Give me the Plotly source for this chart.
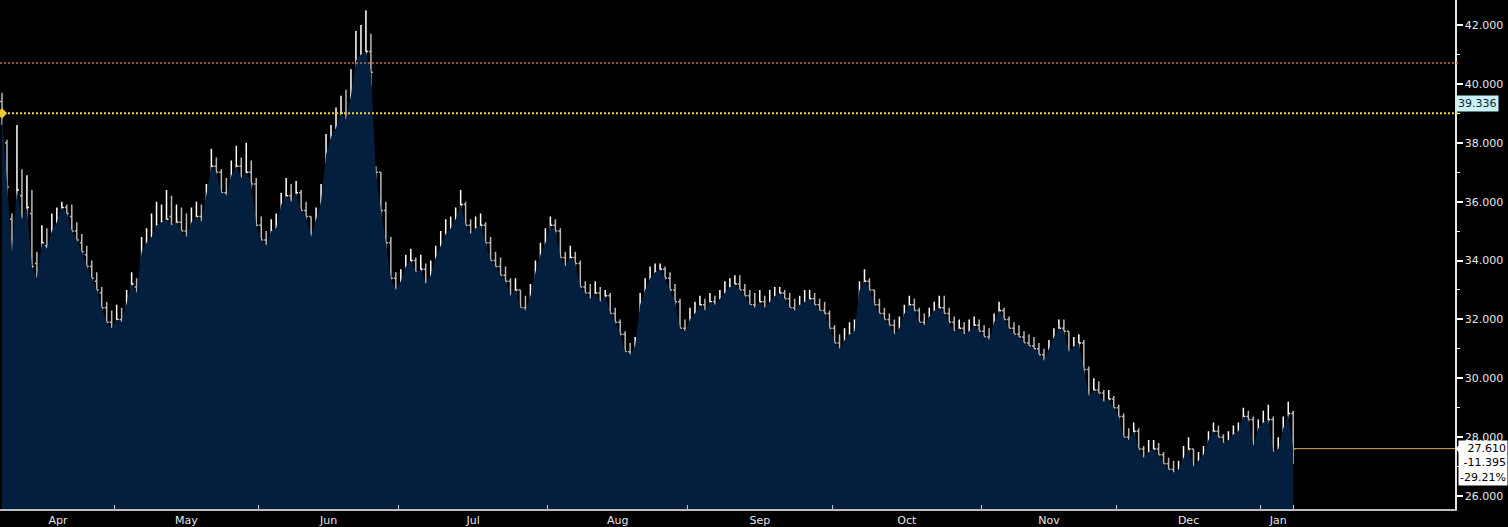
import plotly.graph_objects as go

# ---------------- data ----------------
opens = [
    39.4, 38.0, 35.4, 34.5, 36.2, 35.5, 35.6, 33.9, 33.5, 34.5,
    34.5, 35.0, 35.3, 35.8, 35.5, 35.0, 34.6, 34.2, 33.8, 33.3,
    32.9, 32.4, 31.9, 31.7, 32.0, 31.9, 32.6, 33.1, 32.9, 34.3,
    34.6, 34.8, 35.2, 35.3, 35.5, 35.2, 35.3, 35.0, 34.8, 35.3,
    35.5, 35.3, 36.3, 37.2, 37.0, 36.3, 36.2, 36.9, 37.2, 36.8,
    37.0, 36.6, 35.2, 34.7, 34.5, 35.0, 35.1, 35.9, 36.2, 36.0,
    36.3, 35.7, 35.5, 34.8, 35.4, 36.0, 37.6, 38.2, 38.5, 39.0,
    38.8, 39.6, 40.8, 41.0, 41.1, 37.1, 37.0, 35.7, 34.6, 33.4,
    33.0, 33.3, 33.8, 34.0, 33.6, 33.7, 33.2, 33.5, 34.1, 34.5,
    34.9, 35.1, 35.4, 35.9, 35.2, 34.9, 35.1, 35.2, 34.6, 34.0,
    33.8, 33.5, 33.3, 32.8, 33.0, 32.4, 32.3, 32.8, 33.6, 34.2,
    34.6, 35.2, 35.0, 34.1, 33.8, 34.1, 33.9, 33.1, 32.9, 32.7,
    32.9, 32.6, 32.8, 32.2, 31.9, 31.5, 30.9, 30.8, 31.1, 32.5,
    33.0, 33.4, 33.6, 33.7, 33.4, 33.0, 32.6, 31.7, 31.6, 32.0,
    32.2, 32.5, 32.3, 32.6, 32.5, 32.7, 32.9, 33.1, 33.2, 33.0,
    32.8, 32.5, 32.4, 32.6, 32.4, 32.6, 32.8, 32.9, 32.7, 32.4,
    32.3, 32.5, 32.6, 32.7, 32.5, 32.3, 32.2, 31.7, 31.2, 31.0,
    31.3, 31.5, 31.6, 33.0, 33.3, 33.0, 32.5, 32.2, 32.0, 31.8,
    31.5, 31.7, 32.2, 32.5, 32.3, 31.9, 31.8, 32.1, 32.3, 32.4,
    32.2, 31.9, 31.6, 31.7, 31.5, 31.6, 31.8, 31.6, 31.4, 31.3,
    31.9, 32.3, 32.0, 31.7, 31.5, 31.4, 31.2, 31.1, 31.0, 30.8,
    30.6, 31.0, 31.4, 31.7, 31.6, 30.9, 31.1, 31.2, 30.3, 29.4,
    29.6, 29.5, 29.2, 29.3, 29.0, 28.7, 28.0, 27.9, 28.2, 27.6,
    27.3, 27.5, 27.6, 27.4, 27.1, 26.9, 26.8, 26.9, 27.3, 27.6,
    27.0, 27.2, 27.4, 27.9, 28.2, 28.0, 27.8, 27.9, 28.1, 28.2,
    28.7, 28.6, 27.7, 28.3, 28.5, 28.6, 27.5, 27.6, 28.3, 28.8,
]
highs = [
    39.7, 38.1, 35.6, 38.6, 37.1, 36.9, 36.4, 34.3, 35.2, 35.1,
    35.6, 35.8, 36.0, 35.9, 35.9, 35.3, 34.9, 34.5, 34.0, 33.6,
    33.1, 32.6, 32.3, 32.5, 32.4, 33.0, 33.6, 33.4, 34.8, 35.1,
    35.6, 36.0, 35.9, 36.4, 36.2, 35.9, 35.8, 35.6, 35.8, 36.0,
    35.9, 36.6, 37.8, 37.5, 37.1, 36.8, 37.4, 37.9, 37.5, 38.0,
    37.4, 36.8, 35.5, 35.0, 35.4, 35.6, 36.3, 36.8, 36.6, 36.7,
    36.4, 36.0, 35.5, 35.8, 36.6, 38.3, 38.6, 39.2, 39.6, 39.8,
    40.5, 41.8, 42.0, 42.5, 41.7, 37.2, 37.0, 36.0, 34.8, 33.6,
    33.7, 34.2, 34.4, 34.1, 34.2, 33.9, 34.0, 34.5, 35.0, 35.4,
    35.5, 35.8, 36.4, 36.0, 35.4, 35.5, 35.6, 35.3, 34.8, 34.3,
    34.1, 33.8, 33.4, 33.4, 33.0, 32.8, 33.2, 34.0, 34.6, 35.1,
    35.5, 35.4, 35.1, 34.3, 34.5, 34.3, 34.0, 33.3, 33.2, 33.3,
    33.1, 33.0, 32.9, 32.4, 32.0, 31.6, 31.2, 31.4, 32.9, 33.4,
    33.8, 33.9, 33.9, 33.8, 33.6, 33.2, 32.7, 32.0, 32.4, 32.6,
    32.8, 32.7, 32.9, 32.8, 33.0, 33.3, 33.4, 33.5, 33.5, 33.2,
    33.0, 32.9, 33.0, 32.8, 33.0, 33.1, 33.1, 33.0, 32.9, 32.7,
    32.8, 33.0, 33.0, 32.9, 32.7, 32.6, 32.3, 31.8, 31.5, 31.7,
    31.9, 32.0, 33.3, 33.7, 33.4, 33.0, 32.7, 32.4, 32.2, 32.0,
    32.1, 32.5, 32.8, 32.7, 32.4, 32.2, 32.4, 32.6, 32.8, 32.8,
    32.4, 32.1, 32.0, 31.9, 32.0, 32.1, 32.0, 31.8, 31.7, 32.2,
    32.6, 32.4, 32.1, 31.9, 31.8, 31.6, 31.5, 31.4, 31.2, 31.0,
    31.3, 31.7, 32.0, 32.0, 31.6, 31.4, 31.5, 31.3, 30.4, 30.0,
    29.9, 29.6, 29.6, 29.4, 29.1, 28.8, 28.3, 28.5, 28.3, 27.7,
    27.9, 27.9, 27.8, 27.5, 27.3, 27.2, 27.2, 27.7, 28.0, 27.6,
    27.5, 27.7, 28.2, 28.5, 28.4, 28.1, 28.2, 28.4, 28.5, 29.0,
    28.9, 28.7, 28.6, 28.9, 29.1, 28.7, 28.0, 28.7, 29.2, 28.9,
]
lows = [
    38.6, 35.1, 33.6, 34.4, 34.9, 34.6, 33.2, 32.9, 32.6, 33.9,
    34.3, 34.6, 35.2, 35.0, 34.6, 34.2, 33.8, 33.4, 32.9, 32.5,
    31.9, 31.2, 31.2, 31.4, 31.5, 31.9, 32.5, 32.4, 32.8, 34.0,
    34.2, 34.6, 34.8, 34.9, 34.8, 34.7, 34.6, 34.5, 34.8, 35.0,
    34.9, 35.2, 36.2, 36.4, 35.8, 35.5, 36.0, 36.6, 36.3, 36.5,
    36.1, 34.9, 34.2, 33.8, 34.4, 34.7, 35.0, 35.6, 35.5, 35.8,
    35.3, 35.0, 34.5, 34.7, 35.2, 35.9, 37.4, 37.8, 38.2, 38.3,
    38.6, 39.5, 40.1, 40.5, 39.9, 35.8, 35.1, 34.0, 33.0, 32.7,
    32.8, 33.1, 33.5, 33.2, 33.3, 32.9, 33.0, 33.5, 34.0, 34.3,
    34.6, 34.9, 35.3, 34.8, 34.4, 34.6, 34.8, 34.2, 33.7, 33.4,
    33.1, 32.9, 32.4, 32.5, 32.0, 31.9, 32.2, 32.7, 33.5, 34.0,
    34.5, 34.4, 33.7, 33.4, 33.6, 33.5, 32.8, 32.5, 32.3, 32.4,
    32.2, 32.3, 31.9, 31.6, 31.0, 30.4, 30.3, 30.6, 31.0, 32.4,
    32.9, 33.1, 33.3, 32.9, 32.6, 32.1, 31.2, 31.2, 31.5, 31.7,
    31.9, 31.8, 32.0, 32.1, 32.2, 32.4, 32.6, 32.8, 32.6, 32.3,
    32.1, 32.0, 32.2, 32.0, 32.2, 32.4, 32.5, 32.3, 32.1, 32.0,
    32.1, 32.2, 32.3, 32.1, 31.9, 31.8, 31.3, 30.9, 30.7, 30.9,
    31.1, 31.2, 31.6, 32.8, 32.5, 32.1, 31.8, 31.6, 31.4, 31.2,
    31.3, 31.7, 32.0, 31.9, 31.5, 31.4, 31.6, 31.9, 32.0, 31.8,
    31.5, 31.2, 31.3, 31.1, 31.2, 31.4, 31.2, 31.0, 30.9, 31.3,
    31.8, 31.6, 31.3, 31.1, 31.0, 30.8, 30.7, 30.6, 30.4, 30.3,
    30.5, 30.9, 31.2, 31.2, 30.6, 30.7, 30.8, 30.0, 29.1, 29.2,
    29.1, 28.9, 28.9, 28.7, 28.3, 27.7, 27.6, 27.8, 27.3, 27.0,
    27.1, 27.2, 27.0, 26.8, 26.7, 26.6, 26.6, 26.8, 27.2, 26.8,
    26.8, 27.0, 27.4, 27.8, 27.7, 27.5, 27.6, 27.7, 27.8, 28.2,
    28.1, 27.4, 27.6, 28.1, 28.2, 27.2, 26.9, 27.4, 28.3, 27.1,
]
closes = [
    39.005, 36.5, 34.3, 36.4, 35.4, 35.8, 33.8, 33.4, 34.6, 34.4,
    35.0, 35.3, 35.8, 35.6, 35.0, 34.7, 34.3, 33.8, 33.4, 33.0,
    32.4, 31.9, 31.7, 32.0, 31.9, 32.6, 33.2, 32.9, 34.3, 34.6,
    34.8, 35.2, 35.3, 35.4, 35.2, 35.3, 35.0, 34.8, 35.3, 35.5,
    35.3, 36.3, 37.2, 37.0, 36.3, 36.2, 36.9, 37.2, 36.8, 37.0,
    36.6, 35.2, 34.7, 34.5, 35.0, 35.1, 35.9, 36.2, 36.0, 36.3,
    35.7, 35.5, 34.8, 35.4, 36.0, 37.6, 38.2, 38.5, 39.0, 38.8,
    39.6, 40.8, 41.0, 41.1, 40.4, 37.0, 35.7, 34.6, 33.4, 33.0,
    33.3, 33.8, 34.0, 33.6, 33.7, 33.2, 33.5, 34.1, 34.5, 34.9,
    35.1, 35.4, 35.9, 35.2, 34.9, 35.1, 35.2, 34.6, 34.0, 33.8,
    33.5, 33.3, 32.8, 33.0, 32.4, 32.3, 32.8, 33.6, 34.2, 34.6,
    35.2, 35.0, 34.1, 33.8, 34.1, 33.9, 33.1, 32.9, 32.7, 32.9,
    32.6, 32.8, 32.2, 31.9, 31.5, 30.9, 30.8, 31.1, 32.5, 33.0,
    33.4, 33.6, 33.7, 33.4, 33.0, 32.6, 31.7, 31.6, 32.0, 32.2,
    32.5, 32.3, 32.6, 32.5, 32.7, 32.9, 33.1, 33.2, 33.0, 32.8,
    32.5, 32.4, 32.6, 32.4, 32.6, 32.8, 32.9, 32.7, 32.4, 32.3,
    32.5, 32.6, 32.7, 32.5, 32.3, 32.2, 31.7, 31.2, 31.0, 31.3,
    31.5, 31.6, 33.0, 33.3, 33.0, 32.5, 32.2, 32.0, 31.8, 31.5,
    31.7, 32.2, 32.5, 32.3, 31.9, 31.8, 32.1, 32.3, 32.4, 32.2,
    31.9, 31.6, 31.7, 31.5, 31.6, 31.8, 31.6, 31.4, 31.3, 31.9,
    32.3, 32.0, 31.7, 31.5, 31.4, 31.2, 31.1, 31.0, 30.8, 30.6,
    31.0, 31.4, 31.7, 31.6, 30.9, 31.1, 31.2, 30.3, 29.4, 29.6,
    29.5, 29.2, 29.3, 29.0, 28.7, 28.0, 27.9, 28.2, 27.6, 27.3,
    27.5, 27.6, 27.4, 27.1, 26.9, 26.8, 26.9, 27.3, 27.6, 27.0,
    27.2, 27.4, 27.9, 28.2, 28.0, 27.8, 27.9, 28.1, 28.2, 28.7,
    28.6, 27.7, 28.3, 28.5, 28.6, 27.5, 27.6, 28.3, 28.8, 27.61,
]
month_names = ["Apr", "May", "Jun", "Jul", "Aug", "Sep", "Oct", "Nov", "Dec", "Jan"]
month_starts = [23, 52, 80, 110, 138, 167, 197, 224, 253]  # bar index where each month begins
y_ticks = [26, 28, 30, 32, 34, 36, 38, 40, 42]
y_minor = [27, 29, 31, 33, 35, 37, 39, 41]
start_price = 39.005
upper_level = 40.71
avg_value = 39.336
net_change = "-11.395"
pct_change = "-29.21%"

assert len(opens) == len(highs) == len(lows) == len(closes)

# ---------------- figure ----------------
n = len(closes)
x = list(range(n))
x_end = (n - 1) * 1455 / 1293

bounds = [-0.5] + [m - 0.5 for m in month_starts] + [n - 0.5]
label_pos = [(max(bounds[i], 0) + bounds[i + 1]) / 2 for i in range(len(month_names))]
minor_x = [m - 0.5 for m in month_starts] + [n - 1]

FONT = "DejaVu Sans"

fig = go.Figure()
fig.add_trace(go.Scatter(
    x=x, y=closes, mode="lines", line=dict(width=0, color="#041e3d"),
    fill="tozeroy", fillcolor="#041e3d", hoverinfo="skip", showlegend=False))
fig.add_trace(go.Ohlc(
    x=x, open=opens, high=highs, low=lows, close=closes,
    increasing=dict(line=dict(color="#ffffff", width=1.5)),
    decreasing=dict(line=dict(color="#b8b8b8", width=1.5)),
    tickwidth=0.4, showlegend=False, hoverinfo="skip"))
fig.add_trace(go.Scatter(
    x=[0], y=[start_price], mode="markers",
    marker=dict(symbol="diamond", size=8, color="#f2c62a"),
    cliponaxis=False, hoverinfo="skip", showlegend=False))

# reference lines
fig.add_shape(type="line", xref="paper", yref="y", x0=0, x1=1.002,
              y0=upper_level, y1=upper_level,
              line=dict(color="#c0703a", width=1.5, dash="2px,2px"))
fig.add_shape(type="line", xref="paper", yref="y", x0=0, x1=1.002,
              y0=start_price, y1=start_price,
              line=dict(color="#e8d04a", width=2, dash="2px,2px"))
fig.add_shape(type="line", xref="x", yref="y", x0=n - 1, x1=x_end,
              y0=closes[-1], y1=closes[-1],
              line=dict(color="#d8a860", width=1))
fig.add_shape(type="path", xref="paper", yref="y",
              path=f"M 1.0005 {closes[-1]} L 1.0035 {closes[-1] + 0.17} L 1.0035 {closes[-1] - 0.17} Z",
              fillcolor="#ffffff", line=dict(width=0))

fig.add_annotation(xref="paper", yref="y", x=1.0, y=avg_value, xanchor="left",
                   yanchor="middle", xshift=1, text=f"{avg_value:.3f}",
                   showarrow=False, bgcolor="#c8f2f6", borderpad=1,
                   font=dict(family=FONT, size=11, color="#0c2434"))
fig.add_annotation(xref="paper", yref="y", x=1.0, y=closes[-1], xanchor="left",
                   yanchor="top", xshift=3, yshift=9, align="right",
                   text=f"{closes[-1]:.3f}<br>{net_change}<br>{pct_change}",
                   showarrow=False, bgcolor="#ffffff", borderpad=1,
                   font=dict(family=FONT, size=11, color="#000000"))

fig.update_layout(
    width=1508, height=527,
    margin=dict(l=0, r=53, t=0, b=18),
    paper_bgcolor="#000000", plot_bgcolor="#000000",
    showlegend=False, hovermode=False,
    xaxis=dict(
        range=[-0.4, x_end], rangeslider=dict(visible=False),
        tickvals=label_pos, ticktext=month_names,
        ticks="outside", ticklen=0,
        tickfont=dict(family=FONT, size=11, color="#e6e6e6"),
        showline=True, linecolor="#bdbdbd", linewidth=1.5,
        showgrid=False, zeroline=False, automargin=False,
        minor=dict(tickvals=minor_x, ticks="inside", ticklen=4,
                   tickcolor="#c8c8c8", tickwidth=1, showgrid=False),
    ),
    yaxis=dict(
        side="right", range=[25.56, 42.85],
        tickvals=y_ticks, tickformat=".3f",
        ticks="outside", ticklen=6, tickwidth=2, tickcolor="#ffffff",
        tickfont=dict(family=FONT, size=11, color="#e6e6e6"),
        showline=True, linecolor="#e6e6e6", linewidth=1.5,
        showgrid=False, zeroline=False, automargin=False,
        minor=dict(tickvals=y_minor, ticks="outside", ticklen=3,
                   tickcolor="#ffffff", tickwidth=1, showgrid=False),
    ),
)

fig.write_html(
    "out.html",
    config={"displayModeBar": False, "staticPlot": True},
    post_script="document.body.style.margin='0';document.body.style.overflow='hidden';"
                "document.body.style.background='#000';",
)
